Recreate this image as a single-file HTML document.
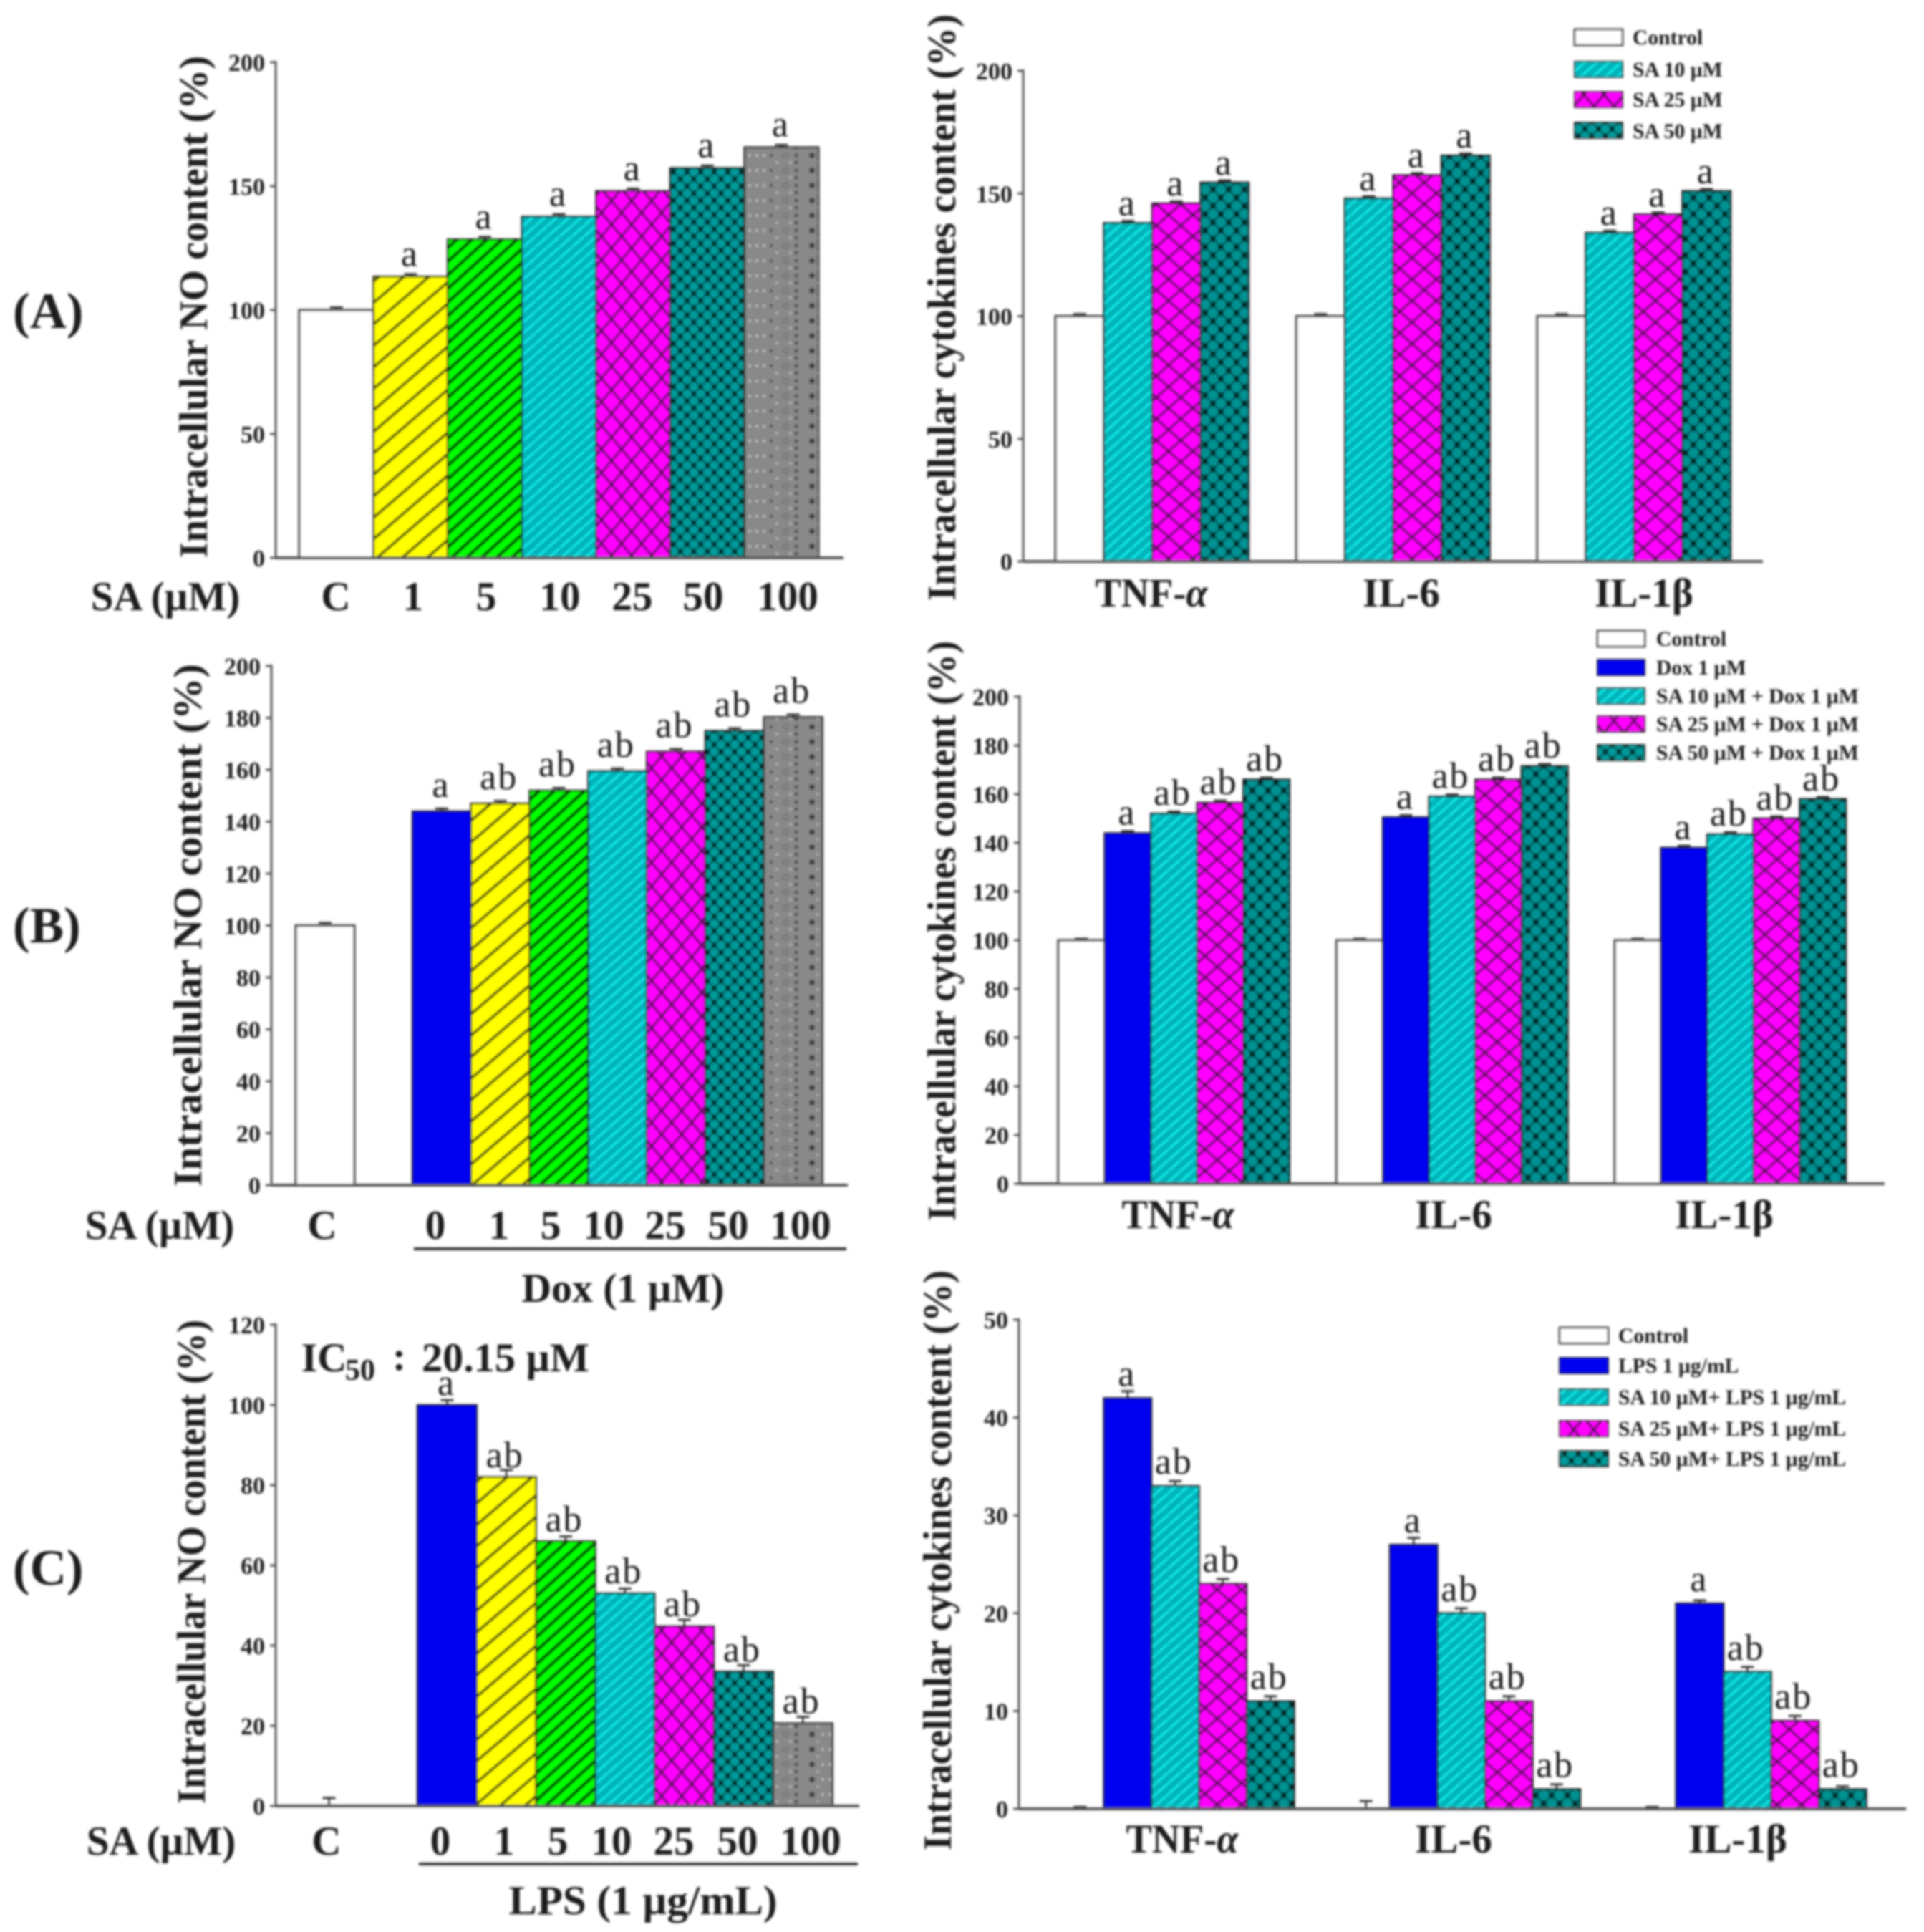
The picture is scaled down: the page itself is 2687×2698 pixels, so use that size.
<!DOCTYPE html>
<html lang="en">
<head>
<meta charset="utf-8">
<title>Intracellular NO and cytokine content</title>
<style>
  html, body { margin: 0; padding: 0; background: #fff; }
  svg { display: block; position: absolute; left: 0; top: 0; }
  text { font-family: "Liberation Serif", serif; fill: #1c1c1c; }
  .b { font-weight: bold; }
  .lab { font-weight: bold; font-size: 57px; }
  .yl { font-weight: bold; font-size: 56px; }
  .leg { font-weight: bold; font-size: 29.6px; }
  .leg2 { font-weight: bold; font-size: 29.6px; }
</style>
</head>
<body>
<svg id="fig" xmlns="http://www.w3.org/2000/svg" width="2687" height="2698" viewBox="0 0 2687 2698">
  <defs>
    <filter id="soft" filterUnits="userSpaceOnUse" x="0" y="0" width="2687" height="2698">
      <feGaussianBlur stdDeviation="1.5"/>
    </filter>
    <pattern id="p-yellow" patternUnits="userSpaceOnUse" width="35" height="30">
      <rect width="35" height="30" fill="#ffff00"/>
      <path d="M-7,6 L7,-6 M0,30 L35,0 M28,36 L42,24" stroke="#46460c" stroke-width="3.8"/>
    </pattern>
    <pattern id="p-green" patternUnits="userSpaceOnUse" width="21" height="19">
      <rect width="21" height="19" fill="#00ff00"/>
      <path d="M-5,4.5 L5,-4.5 M0,19 L21,0 M16,23.5 L26,14.5" stroke="#003c00" stroke-width="4.4"/>
    </pattern>
    <pattern id="p-cyan" patternUnits="userSpaceOnUse" width="17" height="15">
      <rect width="17" height="15" fill="#00b4b8"/>
      <path d="M-4,3.5 L4,-3.5 M1,14 L16,1 M13,18.5 L21,11.5" stroke="#16eef0" stroke-width="2.8"/>
    </pattern>
    <pattern id="p-magenta" patternUnits="userSpaceOnUse" width="28" height="33">
      <rect width="28" height="33" fill="#ff00ff"/>
      <path d="M0,0 L28,33 M28,0 L0,33" stroke="#420a42" stroke-width="3"/>
    </pattern>
    <pattern id="p-magenta-wide" patternUnits="userSpaceOnUse" width="34" height="30">
      <rect width="34" height="30" fill="#ff00ff"/>
      <path d="M0,0 L34,30 M34,0 L0,30" stroke="#420a42" stroke-width="3"/>
    </pattern>
    <pattern id="p-teal" patternUnits="userSpaceOnUse" width="19" height="20">
      <rect width="19" height="20" fill="#005050"/>
      <circle cx="0" cy="0" r="6" fill="#009a9a"/>
      <circle cx="19" cy="0" r="6" fill="#009a9a"/>
      <circle cx="0" cy="20" r="6" fill="#009a9a"/>
      <circle cx="19" cy="20" r="6" fill="#009a9a"/>
      <circle cx="9.5" cy="10" r="6" fill="#009a9a"/>
      <circle cx="9.5" cy="0" r="2.4" fill="#000f0f"/>
      <circle cx="9.5" cy="20" r="2.4" fill="#000f0f"/>
      <circle cx="0" cy="10" r="2.4" fill="#000f0f"/>
      <circle cx="19" cy="10" r="2.4" fill="#000f0f"/>
    </pattern>
    <pattern id="p-teal-wide" patternUnits="userSpaceOnUse" width="22" height="23">
      <rect width="22" height="23" fill="#005050"/>
      <circle cx="0" cy="0" r="7" fill="#009292"/>
      <circle cx="22" cy="0" r="7" fill="#009292"/>
      <circle cx="0" cy="23" r="7" fill="#009292"/>
      <circle cx="22" cy="23" r="7" fill="#009292"/>
      <circle cx="11" cy="11.5" r="7" fill="#009292"/>
      <circle cx="11" cy="0" r="2.8" fill="#000f0f"/>
      <circle cx="11" cy="23" r="2.8" fill="#000f0f"/>
      <circle cx="0" cy="11.5" r="2.8" fill="#000f0f"/>
      <circle cx="22" cy="11.5" r="2.8" fill="#000f0f"/>
    </pattern>
    <pattern id="p-gray" patternUnits="userSpaceOnUse" width="102" height="21">
      <rect width="102" height="21" fill="#898989"/>
      <circle cx="12" cy="7" r="4" fill="#3e3e3e"/>
      <circle cx="27" cy="7" r="1.5" fill="#d6d6d6"/>
      <circle cx="37" cy="7" r="1.5" fill="#d6d6d6"/>
      <circle cx="47" cy="7" r="1.5" fill="#d6d6d6"/>
      <circle cx="57" cy="7" r="2.2" fill="#4a4a4a"/>
      <circle cx="77" cy="7" r="4" fill="#6a6a6a"/>
      <circle cx="77" cy="7" r="1.6" fill="#a8a8a8"/>
      <circle cx="92" cy="7" r="2.4" fill="#3e3e3e"/>
      <circle cx="92" cy="17" r="2.4" fill="#3e3e3e"/>
      <circle cx="20" cy="17" r="1.4" fill="#c4c4c4"/>
      <circle cx="65" cy="17" r="1.6" fill="#c4c4c4"/>
      <circle cx="84" cy="17" r="1.6" fill="#c4c4c4"/>
    </pattern>
  </defs>
  <g id="root" filter="url(#soft)">
    <g id="annotations">
      <text class="b" x="18" y="458" font-size="71">(A)</text>
      <text class="b" x="18" y="1316" font-size="71">(B)</text>
      <text class="b" x="18" y="2213" font-size="71">(C)</text>

      <text class="yl" transform="translate(289 779) rotate(-90)" textLength="701" lengthAdjust="spacingAndGlyphs">Intracellular NO content (%)</text>
      <text class="yl" transform="translate(281 1657) rotate(-90)" textLength="730" lengthAdjust="spacingAndGlyphs">Intracellular NO content (%)</text>
      <text class="yl" transform="translate(286 2519) rotate(-90)" textLength="676" lengthAdjust="spacingAndGlyphs">Intracellular NO content (%)</text>
      <text class="yl" transform="translate(1334 839) rotate(-90)" textLength="819" lengthAdjust="spacingAndGlyphs">Intracellular cytokines content (%)</text>
      <text class="yl" transform="translate(1334 1705) rotate(-90)" textLength="810" lengthAdjust="spacingAndGlyphs">Intracellular cytokines content (%)</text>
      <text class="yl" transform="translate(1328 2584) rotate(-90)" textLength="810" lengthAdjust="spacingAndGlyphs">Intracellular cytokines content (%)</text>

      <g class="lab" text-anchor="middle">
        <text x="231" y="852" class="lab">SA (µM)</text>
        <text x="469" y="852" class="lab">C</text>
        <text x="577" y="852" class="lab">1</text>
        <text x="679" y="852" class="lab">5</text>
        <text x="782" y="852" class="lab">10</text>
        <text x="883" y="852" class="lab">25</text>
        <text x="982" y="852" class="lab">50</text>
        <text x="1100" y="852" class="lab">100</text>
      </g>
      <g text-anchor="middle">
        <text x="223" y="1730" class="lab">SA (µM)</text>
        <text x="450" y="1730" class="lab">C</text>
        <text x="608" y="1730" class="lab">0</text>
        <text x="697" y="1730" class="lab">1</text>
        <text x="769" y="1730" class="lab">5</text>
        <text x="843" y="1730" class="lab">10</text>
        <text x="929" y="1730" class="lab">25</text>
        <text x="1017" y="1730" class="lab">50</text>
        <text x="1118" y="1730" class="lab">100</text>
        <text x="870" y="1818" class="lab" textLength="283" lengthAdjust="spacingAndGlyphs">Dox (1 µM)</text>
      </g>
      <rect x="578" y="1742" width="604" height="4" fill="#333"/>
      <g text-anchor="middle">
        <text x="225" y="2590" class="lab">SA (µM)</text>
        <text x="456" y="2590" class="lab">C</text>
        <text x="615" y="2590" class="lab">0</text>
        <text x="704" y="2590" class="lab">1</text>
        <text x="779" y="2590" class="lab">5</text>
        <text x="854" y="2590" class="lab">10</text>
        <text x="941" y="2590" class="lab">25</text>
        <text x="1030" y="2590" class="lab">50</text>
        <text x="1132" y="2590" class="lab">100</text>
        <text x="898" y="2673" class="lab" textLength="375" lengthAdjust="spacingAndGlyphs">LPS (1 µg/mL)</text>
      </g>
      <rect x="585" y="2601" width="613" height="4" fill="#333"/>
      <g>
        <text x="421" y="1915" class="lab">IC</text>
        <text x="482" y="1927" class="b" font-size="42">50</text>
        <text x="548" y="1913" class="lab">:</text>
        <text x="589" y="1915" class="lab" textLength="234" lengthAdjust="spacingAndGlyphs">20.15 µM</text>
      </g>

      <g text-anchor="middle">
        <text x="1608" y="847" class="lab" textLength="157" lengthAdjust="spacingAndGlyphs">TNF-<tspan font-style="italic">α</tspan></text>
        <text x="1957" y="847" class="lab">IL-6</text>
        <text x="2296" y="847" class="lab">IL-1β</text>
      </g>
      <g text-anchor="middle">
        <text x="1645" y="1715" class="lab" textLength="157" lengthAdjust="spacingAndGlyphs">TNF-<tspan font-style="italic">α</tspan></text>
        <text x="2030" y="1715" class="lab">IL-6</text>
        <text x="2408" y="1715" class="lab">IL-1β</text>
      </g>
      <g text-anchor="middle">
        <text x="1651" y="2587" class="lab" textLength="157" lengthAdjust="spacingAndGlyphs">TNF-<tspan font-style="italic">α</tspan></text>
        <text x="2030" y="2587" class="lab">IL-6</text>
        <text x="2427" y="2587" class="lab">IL-1β</text>
      </g>

      <g>
        <rect x="2199" y="41" width="67" height="22" fill="#fff" stroke="#555" stroke-width="3"/>
        <text x="2280" y="62" class="leg">Control</text>
        <rect x="2199" y="86" width="67" height="22" fill="url(#p-cyan)" stroke="#333" stroke-width="2"/>
        <text x="2280" y="107" class="leg">SA 10 µM</text>
        <rect x="2199" y="128" width="67" height="22" fill="url(#p-magenta)" stroke="#333" stroke-width="2"/>
        <text x="2280" y="149" class="leg">SA 25 µM</text>
        <rect x="2199" y="171" width="67" height="22" fill="url(#p-teal)" stroke="#333" stroke-width="2"/>
        <text x="2280" y="193" class="leg">SA 50 µM</text>
      </g>
      <g>
        <rect x="2231" y="881" width="66" height="22" fill="#fff" stroke="#555" stroke-width="3"/>
        <text x="2313" y="902" class="leg">Control</text>
        <rect x="2231" y="921" width="66" height="22" fill="#0000f0" stroke="#222" stroke-width="2"/>
        <text x="2313" y="942" class="leg">Dox 1 µM</text>
        <rect x="2231" y="961" width="66" height="22" fill="url(#p-cyan)" stroke="#333" stroke-width="2"/>
        <text x="2313" y="982" class="leg">SA 10 µM + Dox 1 µM</text>
        <rect x="2231" y="1000" width="66" height="22" fill="url(#p-magenta)" stroke="#333" stroke-width="2"/>
        <text x="2313" y="1021" class="leg">SA 25 µM + Dox 1 µM</text>
        <rect x="2231" y="1040" width="66" height="22" fill="url(#p-teal)" stroke="#333" stroke-width="2"/>
        <text x="2313" y="1061" class="leg">SA 50 µM + Dox 1 µM</text>
      </g>
      <g>
        <rect x="2178" y="1854" width="68" height="22" fill="#fff" stroke="#555" stroke-width="3"/>
        <text x="2260" y="1875" class="leg">Control</text>
        <rect x="2178" y="1896" width="68" height="22" fill="#0000f0" stroke="#222" stroke-width="2"/>
        <text x="2260" y="1917" class="leg2">LPS 1 µg/mL</text>
        <rect x="2178" y="1940" width="68" height="22" fill="url(#p-cyan)" stroke="#333" stroke-width="2"/>
        <text x="2260" y="1961" class="leg2">SA 10 µM+ LPS 1 µg/mL</text>
        <rect x="2178" y="1984" width="68" height="22" fill="url(#p-magenta)" stroke="#333" stroke-width="2"/>
        <text x="2260" y="2005" class="leg2">SA 25 µM+ LPS 1 µg/mL</text>
        <rect x="2178" y="2026" width="68" height="22" fill="url(#p-teal)" stroke="#333" stroke-width="2"/>
        <text x="2260" y="2047" class="leg2">SA 50 µM+ LPS 1 µg/mL</text>
      </g>
    </g>
  </g>
</svg>
<script>
// ---- Panel A, NO content ----
const aLeftCategories = ['C', '1', '5', '10', '25', '50', '100'];
const aLeftValues = [100, 113.5, 128.5, 137.7, 148, 157.3, 165.7];
const aLeftErrors = [1, 1, 1, 1, 1, 1, 1];
const aLeftSig = ['', 'a', 'a', 'a', 'a', 'a', 'a'];
const aLeftTicks = [0, 50, 100, 150, 200];
const aLeftFills = ['white', 'yellow', 'green', 'cyan', 'magenta', 'teal', 'gray'];

// ---- Panel A, cytokines ----
const aRightGroups = ['TNF-alpha', 'IL-6', 'IL-1beta'];
const aRightTnf = [100, 138, 146, 154.5];
const aRightIl6 = [100, 148, 157.5, 165.5];
const aRightIl1 = [100, 134, 141.5, 151];
const aRightErrors = [0.8, 0.8, 0.8, 0.8];
const aRightSig = ['', 'a', 'a', 'a'];
const aRightTicks = [0, 50, 100, 150, 200];
const aRightFills = ['white', 'cyan', 'magenta-wide', 'teal-wide'];

// ---- Panel B, NO content ----
const bLeftCategories = ['C', '0', '1', '5', '10', '25', '50', '100'];
const bLeftValues = [100, 144, 147, 152, 159.5, 167, 175, 180.3];
const bLeftErrors = [1, 1, 1, 1, 1, 1, 1, 1];
const bLeftSig = ['', 'a', 'ab', 'ab', 'ab', 'ab', 'ab', 'ab'];
const bLeftTicks = [0, 20, 40, 60, 80, 100, 120, 140, 160, 180, 200];
const bLeftFills = ['white', 'blue', 'yellow', 'green', 'cyan', 'magenta', 'teal', 'gray'];

// ---- Panel B, cytokines ----
const bRightGroups = ['TNF-alpha', 'IL-6', 'IL-1beta'];
const bRightTnf = [100, 144, 152, 156.5, 166];
const bRightIl6 = [100, 150.5, 159, 166, 171.5];
const bRightIl1 = [100, 138, 143.5, 150, 158];
const bRightErrors = [0.6, 0.8, 0.8, 0.8, 0.8];
const bRightSig = ['', 'a', 'ab', 'ab', 'ab'];
const bRightTicks = [0, 20, 40, 60, 80, 100, 120, 140, 160, 180, 200];
const bRightFills = ['white', 'blue', 'cyan', 'magenta-wide', 'teal-wide'];

// ---- Panel C, NO content ----
const cLeftCategories = ['C', '0', '1', '5', '10', '25', '50', '100'];
const cLeftValues = [0, 100, 82, 66, 53, 44.8, 33.5, 20.6];
const cLeftErrors = [2, 1.2, 1.8, 1.2, 1.2, 1.6, 1.6, 1.6];
const cLeftSig = ['', 'a', 'ab', 'ab', 'ab', 'ab', 'ab', 'ab'];
const cLeftTicks = [0, 20, 40, 60, 80, 100, 120];
const cLeftFills = ['white', 'blue', 'yellow', 'green', 'cyan', 'magenta', 'teal', 'gray'];

// ---- Panel C, cytokines ----
const cRightGroups = ['TNF-alpha', 'IL-6', 'IL-1beta'];
const cRightTnf = [0, 42, 33, 23, 11];
const cRightIl6 = [0, 27, 20, 11, 2];
const cRightIl1 = [0, 21, 14, 9, 2];
const cRightTnfErrors = [0.2, 0.7, 0.5, 0.5, 0.5];
const cRightIl6Errors = [0.8, 0.7, 0.5, 0.5, 0.5];
const cRightIl1Errors = [0.2, 0.3, 0.5, 0.5, 0.3];
const cRightSig = ['', 'a', 'ab', 'ab', 'ab'];
const cRightTicks = [0, 10, 20, 30, 40, 50];
const cRightFills = ['white', 'blue', 'cyan', 'magenta-wide', 'teal-wide'];

const NS = 'http://www.w3.org/2000/svg';
const root = document.getElementById('root');

function fillOf(key) {
  if (key === 'white') return '#ffffff';
  if (key === 'blue') return '#0000f0';
  return 'url(#p-' + key + ')';
}

function line(parent, x1, y1, x2, y2, color, width, name) {
  const el = document.createElementNS(NS, 'line');
  el.setAttribute('x1', x1);
  el.setAttribute('y1', y1);
  el.setAttribute('x2', x2);
  el.setAttribute('y2', y2);
  el.setAttribute('stroke', color);
  el.setAttribute('stroke-width', width);
  
  
  parent.appendChild(el);
  return el;
}

function label(parent, x, y, str, size, anchor, bold, name) {
  const el = document.createElementNS(NS, 'text');
  el.setAttribute('x', x);
  el.setAttribute('y', y);
  el.setAttribute('font-size', size);
  el.setAttribute('text-anchor', anchor);
  if (bold) el.setAttribute('font-weight', 'bold');
  el.textContent = str;
  
  
  parent.appendChild(el);
  return el;
}

function drawAxes(group, cfg, yScale) {
  line(group, cfg.axisX, cfg.top - 2, cfg.axisX, cfg.bottom, '#555', 3, 'y-axis-line');
  cfg.ticks.forEach(function (t) {
    const y = yScale(t);
    line(group, cfg.axisX - 8, y, cfg.axisX, y, '#555', 3, 'y-tick');
    label(group, cfg.axisX - 15, y + 12, String(t), 34, 'end', true, 'y-tick-label');
  });
}

function drawBar(group, cfg, yScale, x, w, value, err, fillKey, sig, name) {
  const top = yScale(value);
  const base = yScale(0);
  const cx = x + w / 2;
  const errTop = yScale(value + err);
  line(group, cx, top, cx, errTop, '#333', 2.5, 'error-bar-' + name);
  line(group, cx - 9, errTop, cx + 9, errTop, '#333', 3, 'error-cap-' + name);
  if (value > 0) {
    const r = document.createElementNS(NS, 'rect');
    r.setAttribute('x', x);
    r.setAttribute('y', top);
    r.setAttribute('width', w);
    r.setAttribute('height', base - top);
    r.setAttribute('fill', fillOf(fillKey));
    r.setAttribute('stroke', fillKey === 'white' ? '#555' : '#1f1f1f');
    r.setAttribute('stroke-width', fillKey === 'white' ? 3.5 : 2.5);
    
    
    group.appendChild(r);
  }
  if (sig) {
    const t = label(group, cx - 2, top - cfg.labelGap, sig, 52, 'middle', false, 'significance-label-' + name);
    t.setAttribute('letter-spacing', sig.length > 1 ? 2 : 0);
    t.setAttribute('fill', '#333');
  }
}

function makePanel(name, cfg) {
  const group = document.createElementNS(NS, 'g');
  
  
  root.appendChild(group);
  const yScale = function (v) { return cfg.bottom - v * (cfg.bottom - cfg.top) / cfg.max; };
  drawAxes(group, cfg, yScale);
  return { group: group, yScale: yScale };
}

function finishAxis(panel, cfg) {
  line(panel.group, cfg.axisX, cfg.bottom, cfg.right, cfg.bottom, '#555', 4, 'x-axis-line');
}

function drawSingle(name, cfg, cats, values, errors, sig, fills) {
  const p = makePanel(name, cfg);
  const xBand = function (i) {
    if (cfg.controlX !== undefined) {
      return i === 0 ? cfg.controlX : cfg.x0 + (i - 1) * cfg.band;
    }
    return cfg.x0 + i * cfg.band;
  };
  const w = function (i) {
    return (cfg.controlX !== undefined && i === 0) ? cfg.controlW : cfg.band;
  };
  cats.forEach(function (c, i) {
    drawBar(p.group, cfg, p.yScale, xBand(i), w(i), values[i], errors[i], fills[i], sig[i], name + '-' + c);
  });
  finishAxis(p, cfg);
}

function drawGrouped(name, cfg, groups, seriesByGroup, errorsByGroup, sig, fills) {
  const p = makePanel(name, cfg);
  const xBand = function (g, s) { return cfg.x0 + g * cfg.step + s * cfg.band; };
  groups.forEach(function (g, gi) {
    seriesByGroup[gi].forEach(function (v, si) {
      drawBar(p.group, cfg, p.yScale, xBand(gi, si), cfg.band, v, errorsByGroup[gi][si], fills[si], sig[si], name + '-' + g + '-' + si);
    });
  });
  finishAxis(p, cfg);
}

drawSingle('chart-a-left', { axisX: 385, top: 87, bottom: 779, right: 1178, max: 200, ticks: aLeftTicks, x0: 418, band: 103.6, labelGap: 15 },
  aLeftCategories, aLeftValues, aLeftErrors, aLeftSig, aLeftFills);

drawGrouped('chart-a-right', { axisX: 1429, top: 99, bottom: 784, right: 2462, max: 200, ticks: aRightTicks, x0: 1474, step: 336.5, band: 67.5, labelGap: 11 },
  aRightGroups, [aRightTnf, aRightIl6, aRightIl1], [aRightErrors, aRightErrors, aRightErrors], aRightSig, aRightFills);

drawSingle('chart-b-left', { axisX: 379, top: 930, bottom: 1655, right: 1184, max: 200, ticks: bLeftTicks, controlX: 413, controlW: 82, x0: 576, band: 81.8, labelGap: 20 },
  bLeftCategories, bLeftValues, bLeftErrors, bLeftSig, bLeftFills);

drawGrouped('chart-b-right', { axisX: 1424, top: 973, bottom: 1653, right: 2632, max: 200, ticks: bRightTicks, x0: 1478, step: 388.5, band: 64.6, labelGap: 12 },
  bRightGroups, [bRightTnf, bRightIl6, bRightIl1], [bRightErrors, bRightErrors, bRightErrors], bRightSig, bRightFills);

drawSingle('chart-c-left', { axisX: 385, top: 1850, bottom: 2522, right: 1200, max: 120, ticks: cLeftTicks, controlX: 418, controlW: 83, x0: 583, band: 82.8, labelGap: 14 },
  cLeftCategories, cLeftValues, cLeftErrors, cLeftSig, cLeftFills);

drawGrouped('chart-c-right', { axisX: 1423, top: 1843, bottom: 2526, right: 2662, max: 50, ticks: cRightTicks, x0: 1475, step: 399.5, band: 66.5, labelGap: 17 },
  cRightGroups, [cRightTnf, cRightIl6, cRightIl1], [cRightTnfErrors, cRightIl6Errors, cRightIl1Errors], cRightSig, cRightFills);
</script>
</body>
</html>
